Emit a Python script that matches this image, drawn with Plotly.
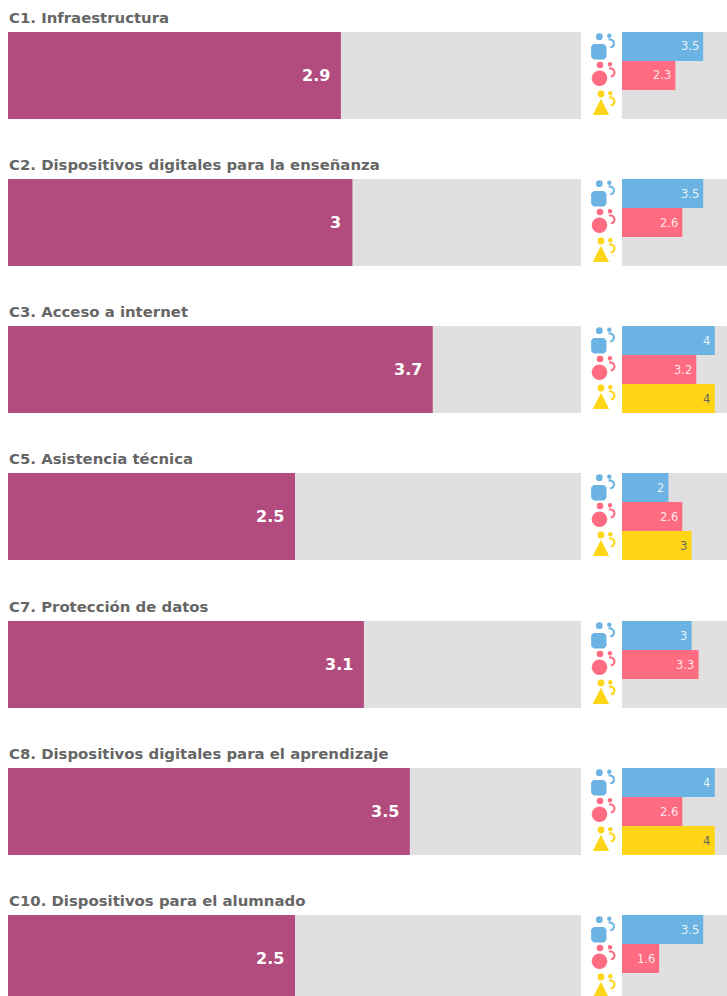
import plotly.graph_objects as go

W, H = 727, 996
categories = ["C1. Infraestructura", "C2. Dispositivos digitales para la enseñanza",
              "C3. Acceso a internet", "C5. Asistencia técnica", "C7. Protección de datos",
              "C8. Dispositivos digitales para el aprendizaje", "C10. Dispositivos para el alumnado"]
overall = [2.9, 3, 3.7, 2.5, 3.1, 3.5, 2.5]
blue_vals = [3.5, 3.5, 4, 2, 3, 4, 3.5]
red_vals = [2.3, 2.6, 3.2, 2.6, 3.3, 2.6, 1.6]
yellow_vals = [None, None, 4, 3, None, 4, None]
slots = ["blue", "red", "yellow"]

ROW_TOPS = [32, 179, 326, 473, 621, 768, 915]
ROW_H = 87
SCALE_MAX = 5
L0, L1 = 8, 581
L_UNIT = 114.8
R0 = 622
R_UNIT = 23.2
PURPLE, TRACK, BLUE, RED, YELLOW = "#B34C7E", "#E0E0E0", "#6AB3E3", "#FF6B80", "#FFD617"
GREY = "#666666"
FONT = "DejaVu Sans"

def px(x): return x / W
def py(y): return 1 - y / H

fig = go.Figure()
ann, shapes = [], []

def circle(cx, cy, r, c):
    shapes.append(dict(type="circle", xref="paper", yref="paper", x0=px(cx-r), x1=px(cx+r),
                       y0=py(cy+r), y1=py(cy-r), fillcolor=c, line_width=0, layer="above"))

def path(points, c, fill=True, w=2, close=True):
    d = "M " + " L ".join(f"{px(x):.5f},{py(y):.5f}" for x, y in points) + (" Z" if close else "")
    shapes.append(dict(type="path", xref="paper", yref="paper", path=d,
                       fillcolor=c if fill else "rgba(0,0,0,0)",
                       line=dict(color=c, width=w), layer="above"))

def hook(dx, dy, c):
    path([(dx+608.5, dy+39.3), (dx+611.5, dy+39.8), (dx+613.6, dy+41.6), (dx+614, dy+44),
          (dx+612.8, dy+46.4), (dx+610.3, dy+47.6)], c, fill=False, close=False)

for i, top in enumerate(ROW_TOPS):
    bottom = top + ROW_H
    clip = max(0, bottom - H)
    n = 2 * i + 1
    xa, ya = f"x{n}", f"y{n}"
    xa2, ya2 = f"x{n+1}", f"y{n+1}"
    vis_bottom = min(bottom, H)
    # left panel
    fig.add_bar(x=[SCALE_MAX], y=[0], width=1, orientation="h", marker=dict(color=TRACK, line_width=0),
                xaxis=xa, yaxis=ya, hoverinfo="skip")
    fig.add_bar(x=[overall[i]], y=[0], width=1, orientation="h", marker=dict(color=PURPLE, line_width=0),
                xaxis=xa, yaxis=ya, hovertemplate=categories[i] + ": %{x}<extra></extra>")
    common = dict(visible=False, fixedrange=True)
    fig.layout[f"xaxis{n}"] = dict(domain=[px(L0), px(L1)], range=[0, (L1 - L0) / L_UNIT], anchor=ya, **common)
    fig.layout[f"yaxis{n}"] = dict(domain=[py(vis_bottom), py(top)], anchor=xa,
                                   range=[0.5 - clip / ROW_H, -0.5], **common)
    ann.append(dict(x=overall[i], y=0, xref=xa, yref=ya, text=f"<b>{overall[i]}</b>", showarrow=False,
                    xanchor="right", xshift=-9, font=dict(family=FONT, size=16, color="white")))
    # right panel
    fig.layout[f"xaxis{n+1}"] = dict(domain=[px(R0), 1], range=[0, (W - R0) / R_UNIT], anchor=ya2, **common)
    fig.layout[f"yaxis{n+1}"] = dict(domain=[py(vis_bottom), py(top)], anchor=xa2,
                                     range=[2.5 - 3 * clip / ROW_H, -0.5], **common)
    fig.add_bar(x=[SCALE_MAX] * 3, y=[0, 1, 2], width=1, orientation="h", marker=dict(color=TRACK, line_width=0),
                xaxis=xa2, yaxis=ya2, hoverinfo="skip")
    for j, (vals, col, tc) in enumerate(((blue_vals, BLUE, "rgba(255,255,255,0.85)"),
                                         (red_vals, RED, "rgba(255,255,255,0.85)"),
                                         (yellow_vals, YELLOW, GREY))):
        v = vals[i]
        if v is None:
            continue
        fig.add_bar(x=[v], y=[j], width=1, orientation="h", marker=dict(color=col, line_width=0),
                    xaxis=xa2, yaxis=ya2, hovertemplate=slots[j] + ": %{x}<extra></extra>")
        ann.append(dict(x=v, y=j, xref=xa2, yref=ya2, text=str(v), showarrow=False, xanchor="right",
                        xshift=-2.5, font=dict(family=FONT, size=11.5, color=tc)))
    # title
    ann.append(dict(x=px(9), y=py(top - 14), xref="paper", yref="paper", text=f"<b>{categories[i]}</b>",
                    showarrow=False, xanchor="left", yanchor="middle", xshift=-2,
                    font=dict(family=FONT, size=14.9, color=GREY)))
    # icons
    d = top - 32
    circle(599.3, d+36.7, 3.4, BLUE); circle(609.3, d+35.7, 2.2, BLUE)
    path([(593.5, d+44.5), (604, d+44.5), (606, d+46.5), (606, d+57), (604, d+59), (593.5, d+59),
          (591.7, d+57), (591.7, d+46.5)], BLUE, w=1)
    hook(0, d, BLUE)
    circle(600, d+65, 3.3, RED); circle(610, d+64.3, 2.2, RED); circle(599.5, d+78.3, 7.8, RED)
    hook(0.5, d+29, RED)
    circle(601, d+94, 3.4, YELLOW); circle(610.3, d+93.3, 2.2, YELLOW)
    path([(601, d+101), (607.5, d+114), (594.3, d+114)], YELLOW, w=2)
    hook(0.5, d+58, YELLOW)

fig.update_layout(width=W, height=H, margin=dict(l=0, r=0, t=0, b=0), barmode="overlay",
                  paper_bgcolor="white", plot_bgcolor="white", showlegend=False,
                  annotations=ann, shapes=shapes, font=dict(family=FONT))
fig.write_html("out.html", post_script="document.body.style.margin='0';document.body.style.overflow='hidden';",
               config=dict(displayModeBar=False))
